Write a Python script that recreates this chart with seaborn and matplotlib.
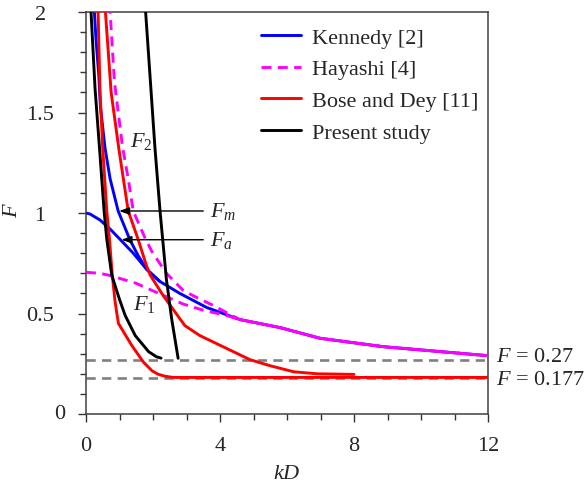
import matplotlib
matplotlib.use("Agg")
import matplotlib.pyplot as plt
import seaborn as sns
import pandas as pd
from matplotlib.ticker import MultipleLocator
from matplotlib.lines import Line2D

# ---- data ----
kennedy_fm_x = [0.25, 0.30, 0.38, 0.43, 0.57, 0.72, 0.96, 1.31, 1.55, 1.81, 2.2]
kennedy_fm_y = [2.0, 1.86, 1.69, 1.53, 1.32, 1.17, 1.01, 0.867, 0.79, 0.72, 0.66]
kennedy_fa_x = [0.0, 0.12, 0.42, 0.72, 1.01, 1.41, 1.81, 2.2, 2.8, 3.6, 4.59, 5.79, 6.98, 8.87, 10.26, 12.0]
kennedy_fa_y = [1.0, 0.995, 0.965, 0.92, 0.87, 0.80, 0.72, 0.66, 0.60, 0.53, 0.47, 0.43, 0.377, 0.335, 0.315, 0.29]

hayashi_up_x = [0.72, 0.85, 1.09, 1.26, 1.41, 1.75, 1.96, 2.4, 2.9, 3.3, 3.8, 4.3, 4.59, 5.79, 6.98, 8.87, 10.26, 12.0]
hayashi_up_y = [2.0, 1.65, 1.33, 1.17, 1.01, 0.88, 0.81, 0.70, 0.615, 0.58, 0.54, 0.495, 0.47, 0.43, 0.377, 0.335, 0.315, 0.29]
hayashi_lo_x = [0.0, 0.4, 0.7, 1.1, 1.5, 1.9, 2.9, 3.55, 4.2, 4.59, 5.79, 6.98, 8.87, 10.26, 12.0]
hayashi_lo_y = [0.705, 0.70, 0.69, 0.67, 0.65, 0.62, 0.547, 0.514, 0.49, 0.47, 0.43, 0.377, 0.335, 0.315, 0.29]

bose_1_x = [0.36, 0.42, 0.50, 0.62, 0.70, 0.78, 0.86, 0.92, 0.97, 1.37, 1.72, 1.97, 2.15, 2.35, 2.6, 12.0]
bose_1_y = [2.0, 1.60, 1.32, 1.01, 0.87, 0.70, 0.57, 0.50, 0.45, 0.34, 0.257, 0.215, 0.198, 0.188, 0.182, 0.182]
bose_2_x = [0.58, 0.75, 0.98, 1.26, 1.56, 1.80, 1.92, 2.3, 2.95, 3.4, 3.9, 4.9, 5.5, 6.2, 6.9, 8.0]
bose_2_y = [2.0, 1.60, 1.32, 1.01, 0.867, 0.74, 0.69, 0.59, 0.44, 0.39, 0.35, 0.27, 0.24, 0.21, 0.20, 0.197]

present_f1_x = [0.15, 0.27, 0.40, 0.54, 0.62, 0.77, 1.0, 1.17, 1.47, 1.87, 2.1, 2.24]
present_f1_y = [2.0, 1.62, 1.33, 1.01, 0.87, 0.69, 0.57, 0.49, 0.39, 0.31, 0.285, 0.278]
present_f2_x = [1.78, 2.06, 2.21, 2.29, 2.4, 2.56, 2.75]
present_f2_y = [2.0, 1.32, 1.01, 0.867, 0.67, 0.47, 0.277]

limit_values = [0.27, 0.177]
limit_labels = ["0.27", "0.177"]
legend_labels = ["Kennedy [2]", "Hayashi [4]", "Bose and Dey [11]", "Present study"]
y_ticks = [0, 0.5, 1, 1.5, 2]
y_ticklabels = ["0", "0.5", "1", "1.5", "2"]

# ---- style ----
sns.set_style("ticks")
plt.rcParams["font.family"] = ["Liberation Serif", "DejaVu Serif"]
plt.rcParams["mathtext.fontset"] = "custom"
plt.rcParams["mathtext.rm"] = "Liberation Serif"
plt.rcParams["mathtext.it"] = "Liberation Serif:italic"
FS = 16

fig = plt.figure(figsize=(5.86, 4.85), dpi=100)
ax = fig.add_axes([86 / 586, 1 - 415 / 485, 402 / 586, 402 / 485])

BLUE, MAG, RED, BLACK, GRAY = "#0000ff", "#ff00ff", "#ff0000", "#000000", "#808080"
LW = 2.1
dash_mag = (0, (3.4, 2.2))
dash_gray = (0, (3.5, 2.4))

def draw(xs, ys, color, ls="-", lw=LW, z=2):
    df = pd.DataFrame({"x": xs, "y": ys})
    sns.lineplot(data=df, x="x", y="y", ax=ax, color=color, linestyle=ls,
                 linewidth=lw, sort=False, estimator=None, legend=False, zorder=z)

for v in limit_values:
    draw([0, 12], [v, v], GRAY, ls=dash_gray, lw=1.9, z=1)

draw(kennedy_fm_x, kennedy_fm_y, BLUE)
draw(kennedy_fa_x, kennedy_fa_y, BLUE)
draw(hayashi_lo_x, hayashi_lo_y, MAG, ls=dash_mag, z=3)
draw(hayashi_up_x, hayashi_up_y, MAG, ls=(2.8, (3.4, 2.2)), z=3)
draw(bose_1_x, bose_1_y, RED, z=4)
draw(bose_2_x, bose_2_y, RED, z=4)
draw(present_f1_x, present_f1_y, BLACK, z=5)
draw(present_f2_x, present_f2_y, BLACK, z=5)

ax.set_xlim(0, 12)
ax.set_ylim(0, 2)
ax.xaxis.set_major_locator(MultipleLocator(4))
ax.xaxis.set_minor_locator(MultipleLocator(1))
ax.yaxis.set_minor_locator(MultipleLocator(0.1))
ax.set_yticks(y_ticks)
ax.set_yticklabels([""] + y_ticklabels[1:])
ax.tick_params(which="major", direction="out", length=5.5, width=1.0, labelsize=FS, color="#333333")
ax.tick_params(axis="x", which="major", pad=10)
# y labels centred about x ~ 40 px (axis at 86 px, tick 7.6 px)
ax.tick_params(axis="y", which="major", pad=27.5)
for lab in ax.get_yticklabels():
    lab.set_horizontalalignment("center")
ax.tick_params(which="minor", direction="out", length=4, width=1.0, color="#333333")
ax.tick_params(top=False, right=False, which="both")
for s in ax.spines.values():
    s.set_visible(True)
    s.set_color("#404040")
    s.set_linewidth(1.1)

# origin label sits closer to the axis
ax.text(-0.8, 0.0, y_ticklabels[0], fontsize=FS, ha="center", va="center", clip_on=False)

ax.set_xlabel("$kD$", fontsize=FS, labelpad=7)
ax.set_ylabel("$F$", fontsize=FS, va="center", ha="center", rotation=90)
ax.yaxis.set_label_coords(-0.182, 0.51)

# annotations
arrowprops = dict(arrowstyle="-|>,head_length=0.6,head_width=0.22", color="black", lw=1.0,
                  shrinkA=0, shrinkB=0)
ax.annotate("", xy=(0.99, 1.01), xytext=(3.5, 1.01), arrowprops=arrowprops, zorder=6)
ax.annotate("", xy=(1.06, 0.867), xytext=(3.5, 0.867), arrowprops=arrowprops, zorder=6)
ax.text(3.7, 1.01, "$F_m$", fontsize=FS, va="center", ha="left")
ax.text(3.7, 0.867, "$F_a$", fontsize=FS, va="center", ha="left")
ax.text(1.31, 1.36, "$F_2$", fontsize=FS, va="center", ha="left")
ax.text(1.40, 0.55, "$F_1$", fontsize=FS, va="center", ha="left")

ax.text(12.25, 0.287, "$F$ = " + limit_labels[0], fontsize=FS, va="center", ha="left", clip_on=False)
ax.text(12.25, 0.172, "$F$ = " + limit_labels[1], fontsize=FS, va="center", ha="left", clip_on=False)

handles = [
    Line2D([], [], color=BLUE, lw=LW),
    Line2D([], [], color=MAG, lw=LW, linestyle=dash_mag),
    Line2D([], [], color=RED, lw=LW),
    Line2D([], [], color=BLACK, lw=LW),
]
ax.legend(handles, legend_labels, loc="upper left", bbox_to_anchor=(0.435, 0.962),
          frameon=False, fontsize=FS, handlelength=1.8, handletextpad=0.5,
          labelspacing=0.5, borderpad=0, borderaxespad=0)

fig.savefig("out.png", dpi=100)
